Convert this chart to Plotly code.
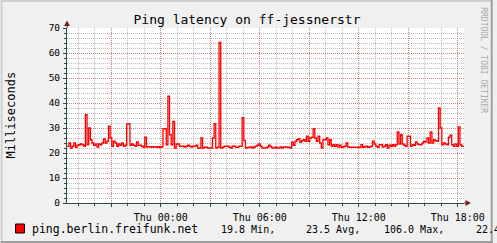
import pandas as pd
import plotly.graph_objects as go

# ---------------- data ----------------
start_time = "2014-12-31 18:20"   # a Wednesday; next day is Thu
step_minutes = 6
latency_ms = [
    22.7, 24.0, 22.0, 22.7, 24.0, 22.3, 23.1, 23.3, 23.6, 23.3,
    22.7, 35.3, 23.3, 30.0, 25.3, 24.0, 23.1, 23.6, 22.4, 23.6,
    23.3, 24.0, 25.6, 24.0, 24.7, 30.7, 26.0, 22.7, 24.7, 24.0,
    22.7, 23.6, 23.1, 24.0, 22.7, 23.1, 31.6, 31.6, 23.1, 23.6,
    23.1, 22.7, 24.4, 23.1, 23.1, 22.7, 22.3, 26.3, 22.4, 22.5,
    22.5, 22.3, 22.5, 22.5, 22.3, 22.5, 22.3, 22.5, 29.7, 29.7,
    23.3, 42.7, 27.3, 23.3, 32.6, 22.0, 23.6, 23.6, 22.7, 22.7,
    22.7, 22.4, 22.7, 23.1, 22.7, 22.4, 22.7, 22.7, 23.1, 22.0,
    22.0, 26.0, 22.0, 22.3, 22.3, 22.0, 22.0, 22.0, 26.0, 31.7,
    22.0, 22.3, 64.2, 22.0, 22.3, 22.7, 22.7, 22.7, 22.3, 22.0,
    22.7, 22.7, 22.3, 22.3, 22.7, 22.7, 34.1, 25.0, 22.0, 22.2,
    22.3, 22.4, 22.0, 22.4, 22.7, 23.1, 23.6, 22.7, 22.0, 22.0,
    22.0, 22.3, 23.1, 22.6, 22.0, 22.0, 22.4, 22.0, 22.0, 22.4,
    22.0, 22.4, 22.4, 22.3, 22.3, 22.0, 24.3, 23.1, 24.7, 25.3,
    25.7, 24.3, 24.9, 25.3, 24.7, 26.7, 24.7, 26.0, 26.3, 29.7,
    26.0, 24.7, 26.7, 24.0, 22.0, 25.3, 25.3, 26.0, 23.3, 25.3,
    22.7, 23.3, 22.7, 23.3, 22.4, 23.1, 22.3, 22.5, 22.7, 24.0,
    22.4, 22.3, 22.3, 22.3, 22.3, 22.3, 22.3, 22.3, 23.3, 22.3,
    22.5, 22.7, 22.3, 22.5, 22.7, 24.7, 23.6, 22.7, 22.3, 23.3,
    23.3, 22.4, 22.7, 23.3, 22.0, 23.1, 22.7, 23.3, 22.7, 23.3,
    28.4, 23.6, 27.3, 23.6, 23.1, 22.7, 26.7, 26.7, 22.7, 23.3,
    23.1, 24.4, 23.6, 23.3, 23.3, 24.0, 24.7, 24.4, 26.0, 24.0,
    28.4, 24.0, 25.3, 24.9, 24.7, 38.0, 30.0, 23.3, 24.0, 23.6,
    23.3, 26.3, 27.1, 23.3, 22.7, 23.6, 22.7, 30.4, 23.3, 22.7,
    22.4,
]
times = pd.date_range(start_time, periods=len(latency_ms), freq=f"{step_minutes}min")

x_range = ["2014-12-31 18:19:05", "2015-01-01 18:22:40"]
y_range = [0, 70]
y_major = [0, 10, 20, 30, 40, 50, 60, 70]
x_major = pd.date_range("2014-12-31 21:00", "2015-01-01 18:00", freq="3h")
x_labels = [t.strftime("%a %H:%M") if t.hour % 6 == 0 else "" for t in x_major]

title_text = "Ping latency on ff-jessnerstr"
y_title = "Milliseconds"
series_name = "ping.berlin.freifunk.net"
stat_values = [19.8, 23.5, 106.0, 22.4]
stat_labels = ["Min,", "Avg,", "Max,", "Last"]
watermark = "RRDTOOL / TOBI OETIKER"

# ---------------- layout helpers ----------------
W, H = 497, 243
ML, MR, MT, MB = 67, 29, 28, 40
PW, PH = W - ML - MR, H - MT - MB
MONO = "DejaVu Sans Mono"
AXIS_C = "#2C4D43"
ARROW_C = "#7F1F1F"
GRID_C = "rgba(143,143,143,0.6)"
MGRID_C = "rgba(222,80,80,0.55)"


def px(x):
    return (x - ML) / PW


def py(y):
    return (H - MB - y) / PH


fig = go.Figure()
fig.add_trace(go.Scatter(
    x=times, y=latency_ms, mode="lines", line=dict(color="#FF0000", width=1.3, shape="hv"),
    showlegend=False, hoverinfo="skip"))

fig.update_layout(
    width=W, height=H, margin=dict(l=ML, r=MR, t=MT, b=MB, pad=0),
    paper_bgcolor="#F0F0F0", plot_bgcolor="#FFFFFF",
    showlegend=False,
    title=dict(text=title_text, font=dict(family=MONO, size=13, color="#000"),
               x=247 / W, xanchor="center", y=1 - 19 / H, yanchor="middle"),
    xaxis=dict(
        type="date", range=x_range, tickmode="array", tickvals=x_major, ticktext=x_labels,
        showgrid=True, gridcolor=MGRID_C, griddash="1px,1px", gridwidth=1,
        showline=True, linecolor=AXIS_C, linewidth=1, zeroline=False,
        ticks="outside", ticklen=3, tickcolor=AXIS_C, ticklabelstandoff=2,
        tickfont=dict(family=MONO, size=10, color="#000"),
        minor=dict(dtick=3600000, tick0="2015-01-01 00:00", showgrid=True, gridcolor=GRID_C,
                   griddash="1px,1px", ticks="outside", ticklen=2, tickcolor=AXIS_C),
    ),
    yaxis=dict(
        range=y_range, tickmode="array", tickvals=y_major,
        showgrid=True, gridcolor=MGRID_C, griddash="1px,1px", gridwidth=1,
        showline=True, linecolor=AXIS_C, linewidth=1, zeroline=False,
        ticks="outside", ticklen=3, tickcolor=AXIS_C, ticklabelstandoff=1,
        tickfont=dict(family=MONO, size=9.5, color="#000"),
        minor=dict(dtick=2, showgrid=True, gridcolor=GRID_C, griddash="1px,1px",
                   ticks="outside", ticklen=2, tickcolor=AXIS_C),
    ),
)

shapes = []
# axis extensions + arrows
shapes.append(dict(type="line", xref="paper", yref="paper", x0=px(67), x1=px(67), y0=py(28), y1=py(24),
                   line=dict(color=AXIS_C, width=1)))
shapes.append(dict(type="path", xref="paper", yref="paper",
                   path=f"M {px(67)} {py(20.5)} L {px(64)} {py(26)} L {px(70)} {py(26)} Z",
                   fillcolor=ARROW_C, line=dict(color=ARROW_C, width=0)))
shapes.append(dict(type="line", xref="paper", yref="paper", x0=px(468), x1=px(470), y0=py(203), y1=py(203),
                   line=dict(color=AXIS_C, width=1)))
shapes.append(dict(type="path", xref="paper", yref="paper",
                   path=f"M {px(475)} {py(203)} L {px(469.5)} {py(200)} L {px(469.5)} {py(206)} Z",
                   fillcolor=ARROW_C, line=dict(color=ARROW_C, width=0)))
# legend swatch
shapes.append(dict(type="rect", xref="paper", yref="paper", x0=px(15), x1=px(24), y0=py(233), y1=py(224),
                   fillcolor="#FF0000", line=dict(color="#000", width=1)))
# outer frame
light, dark = "#CFCFCF", "#9E9E9E"
shapes.append(dict(type="rect", xref="paper", yref="paper", x0=px(0), x1=px(W), y0=py(0), y1=py(2),
                   fillcolor=light, line=dict(width=0), layer="above"))
shapes.append(dict(type="rect", xref="paper", yref="paper", x0=px(0), x1=px(2), y0=py(0), y1=py(H),
                   fillcolor=light, line=dict(width=0), layer="above"))
shapes.append(dict(type="rect", xref="paper", yref="paper", x0=px(0), x1=px(W), y0=py(H - 2), y1=py(H),
                   fillcolor=dark, line=dict(width=0), layer="above"))
shapes.append(dict(type="rect", xref="paper", yref="paper", x0=px(W - 2), x1=px(W), y0=py(0), y1=py(H),
                   fillcolor=dark, line=dict(width=0), layer="above"))
fig.update_layout(shapes=shapes)

ann = []
ann.append(dict(text=y_title, xref="paper", yref="paper", x=px(10), y=py(115), showarrow=False,
                textangle=-90, xanchor="center", yanchor="middle",
                font=dict(family=MONO, size=12, color="#000")))
ann.append(dict(text=watermark, xref="paper", yref="paper", x=px(488), y=py(60), showarrow=False,
                textangle=90, xanchor="center", yanchor="middle",
                font=dict(family=MONO, size=8, color="#A8A8A8")))
ann.append(dict(text=series_name, xref="paper", yref="paper", x=px(30), y=py(229), showarrow=False,
                xanchor="left", yanchor="middle", font=dict(family=MONO, size=11.5, color="#000")))
stat_x = [220.5, 306.5, 385.5, 478.5]
for xv, v, lab in zip(stat_x, stat_values, stat_labels):
    ann.append(dict(text=f"{v:.1f} {lab}", xref="paper", yref="paper", x=px(xv), y=py(229),
                    showarrow=False, xanchor="left", yanchor="middle",
                    font=dict(family=MONO, size=10, color="#000")))
fig.update_layout(annotations=ann)

fig.write_html("out.html")
